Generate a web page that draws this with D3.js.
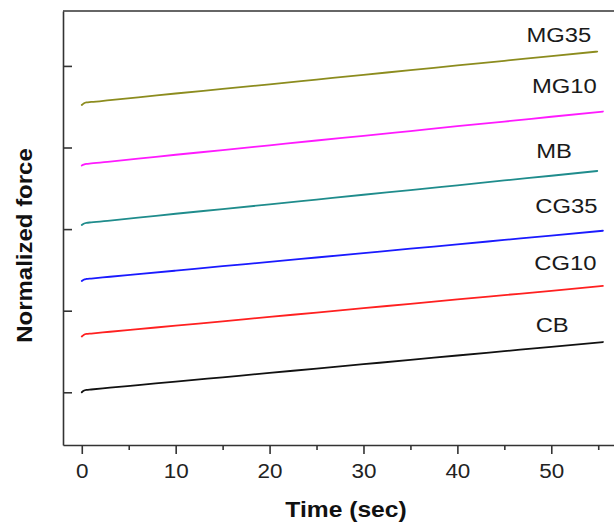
<!DOCTYPE html>
<html>
<head>
<meta charset="utf-8">
<script src="https://cdn.jsdelivr.net/npm/d3@7/dist/d3.min.js"></script>
<style>
  html, body { margin: 0; padding: 0; background: #ffffff; }
  svg { display: block; }
</style>
</head>
<body>
<svg id="chart" width="614" height="525"></svg>
<script>
// ---- data ----
const seriesNames = ["CB", "CG10", "CG35", "MB", "MG10", "MG35"];
const seriesColors = ["#111111", "#ff2020", "#1a1aff", "#1f8c8c", "#ff1aff", "#8c8c1e"];

const timesLong  = [0, 0.2, 0.5, 1, 3, 6, 10, 15, 20, 25, 30, 35, 40, 45, 50, 55.5];
const timesShort = [0, 0.2, 0.5, 1, 3, 6, 10, 15, 20, 25, 30, 35, 40, 45, 50, 54.9];

const valuesCB   = [1.000, 1.018, 1.029, 1.034, 1.056, 1.088, 1.131, 1.184, 1.237, 1.291, 1.344, 1.397, 1.451, 1.504, 1.557, 1.616];
const valuesCG10 = [1.684, 1.703, 1.715, 1.720, 1.742, 1.774, 1.817, 1.870, 1.924, 1.977, 2.031, 2.084, 2.138, 2.191, 2.244, 2.303];
const valuesCG35 = [2.364, 2.380, 2.389, 2.394, 2.416, 2.448, 2.491, 2.545, 2.598, 2.652, 2.706, 2.760, 2.813, 2.867, 2.921, 2.980];
const valuesMB   = [3.050, 3.066, 3.077, 3.082, 3.105, 3.140, 3.188, 3.245, 3.303, 3.362, 3.421, 3.478, 3.537, 3.596, 3.654, 3.712];
const valuesMG10 = [3.779, 3.790, 3.800, 3.805, 3.828, 3.863, 3.911, 3.968, 4.027, 4.086, 4.143, 4.202, 4.261, 4.318, 4.377, 4.441];
const valuesMG35 = [4.521, 4.540, 4.553, 4.558, 4.581, 4.615, 4.662, 4.718, 4.775, 4.833, 4.891, 4.948, 5.006, 5.063, 5.121, 5.176];

const seriesTimes  = [timesLong, timesLong, timesLong, timesShort, timesLong, timesShort];
const seriesValues = [valuesCB, valuesCG10, valuesCG35, valuesMB, valuesMG10, valuesMG35];

// label anchor (center time, baseline value)
const labelTimes  = [50.1, 51.5, 51.6, 50.3, 51.4, 50.8];
const labelValues = [1.743, 2.499, 3.194, 3.875, 4.664, 5.297];

const xMajorTicks = [0, 10, 20, 30, 40, 50];
const xMinorTicks = [5, 15, 25, 35, 45, 55];
const yTicks = [1, 2, 3, 4, 5];

// ---- layout ----
const svg = d3.select("#chart");
const plotLeft = 63, plotTop = 11, plotBottom = 445;
const x = d3.scaleLinear().domain([-2, 58]).range([plotLeft, plotLeft + 60 * 9.39]);
const y = d3.scaleLinear().domain([0.354, 5.673]).range([plotBottom, plotTop]);

svg.append("rect").attr("width", 614).attr("height", 525).attr("fill", "#ffffff");

const axisColor = "#333333";

// lines
const line = d3.line().x(d => x(d[0])).y(d => y(d[1])).curve(d3.curveMonotoneX);
seriesNames.forEach((name, i) => {
  const pts = seriesTimes[i].map((t, j) => [t, seriesValues[i][j]]);
  svg.append("path")
    .datum(pts)
    .attr("d", line)
    .attr("fill", "none")
    .attr("stroke", seriesColors[i])
    .attr("stroke-width", 1.8)
    .attr("stroke-linejoin", "round")
    .attr("stroke-linecap", "round");
});

// bottom axis (major)
const gx = svg.append("g").attr("transform", `translate(0,${plotBottom})`)
  .call(d3.axisBottom(x).tickValues(xMajorTicks).tickSize(9).tickSizeOuter(0).tickFormat(d3.format("d")));
gx.select(".domain").attr("stroke", axisColor).attr("stroke-width", 1.6);
gx.selectAll(".tick line").attr("stroke", axisColor).attr("stroke-width", 1.6);
gx.selectAll(".tick text")
  .attr("y", 33).attr("dy", null)
  .attr("transform", "scale(1.07,1)")
  .attr("font-family", "Liberation Sans, Arial, sans-serif")
  .attr("font-size", 21)
  .attr("fill", "#222222");

// bottom axis (minor)
const gxm = svg.append("g").attr("transform", `translate(0,${plotBottom})`)
  .call(d3.axisBottom(x).tickValues(xMinorTicks).tickSize(5).tickSizeOuter(0).tickFormat(""));
gxm.select(".domain").remove();
gxm.selectAll(".tick line").attr("stroke", axisColor).attr("stroke-width", 1.6);

// left axis, inward ticks
const gy = svg.append("g").attr("transform", `translate(${plotLeft},0)`)
  .call(d3.axisLeft(y).tickValues(yTicks).tickSize(-9).tickSizeOuter(0).tickFormat(""));
gy.select(".domain").attr("stroke", axisColor).attr("stroke-width", 1.6);
gy.selectAll(".tick line").attr("stroke", axisColor).attr("stroke-width", 1.6);

// top frame line
svg.append("line")
  .attr("x1", plotLeft).attr("x2", x(58)).attr("y1", plotTop).attr("y2", plotTop)
  .attr("stroke", axisColor).attr("stroke-width", 1.6);
svg.append("line")
  .attr("x1", x(58)).attr("x2", x(58)).attr("y1", plotTop).attr("y2", plotBottom)
  .attr("stroke", axisColor).attr("stroke-width", 1.6);

// series labels
seriesNames.forEach((name, i) => {
  svg.append("text")
    .attr("transform", `translate(${x(labelTimes[i])},${y(labelValues[i])}) scale(1.19,1)`)
    .attr("text-anchor", "middle")
    .attr("font-family", "Liberation Sans, Arial, sans-serif")
    .attr("font-size", 20)
    .attr("fill", "#1a1a1a")
    .text(name);
});

// axis titles
svg.append("text")
  .attr("transform", `translate(346,516.5) scale(1.12,1)`)
  .attr("text-anchor", "middle")
  .attr("font-family", "Liberation Sans, Arial, sans-serif")
  .attr("font-weight", "bold")
  .attr("font-size", 22)
  .attr("fill", "#111111")
  .text("Time (sec)");

svg.append("text")
  .attr("transform", `translate(31.5,245.5) rotate(-90) scale(1.09,1)`)
  .attr("text-anchor", "middle")
  .attr("font-family", "Liberation Sans, Arial, sans-serif")
  .attr("font-weight", "bold")
  .attr("font-size", 22)
  .attr("fill", "#111111")
  .text("Normalized force");
</script>
</body>
</html>
